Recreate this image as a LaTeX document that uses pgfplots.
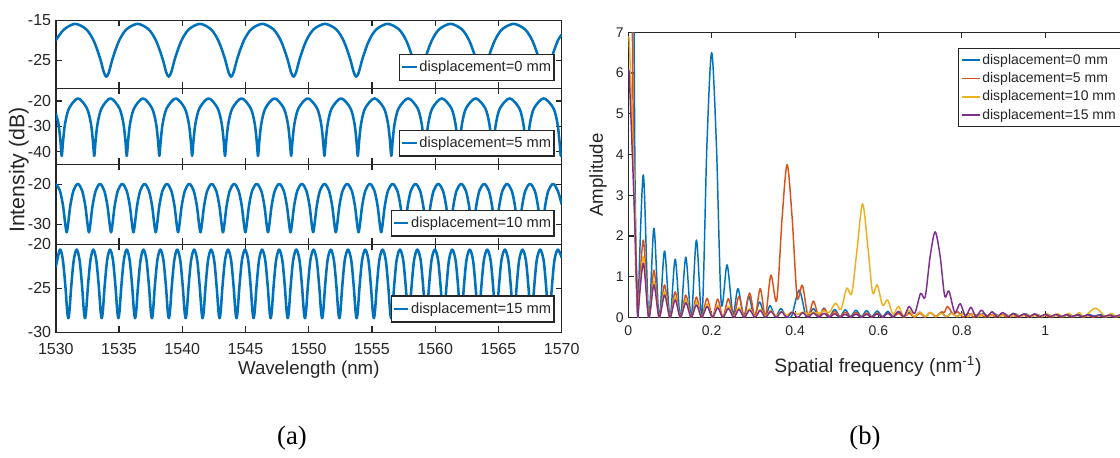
\documentclass[border=0pt]{standalone}
\usepackage{fontspec}
\setmainfont{Liberation Sans}
\newfontfamily\capfont{Liberation Serif}
\usepackage{pgfplots}
\pgfplotsset{compat=1.18}
\definecolor{mblue}{RGB}{0,114,189}
\definecolor{morange}{RGB}{217,83,25}
\definecolor{myellow}{RGB}{237,177,32}
\definecolor{mpurple}{RGB}{126,47,142}
\definecolor{axcol}{RGB}{38,38,38}
\pgfplotsset{
  leftax/.style={scale only axis, width=379.4pt, xmin=1530, xmax=1570,
    xtick={1530,1535,1540,1545,1550,1555,1560,1565,1570}, xticklabels={},
    tick align=inside, axis line style={axcol, line width=1.1pt},
    tick style={axcol, line width=1pt}, major tick length=4.5pt,
    /pgf/number format/assume math mode=true,
    ticklabel style={font=\fontsize{12}{12}\selectfont, text=axcol},
    legend style={anchor=south east, draw=axcol, line width=0.9pt, fill=white,
      font=\fontsize{11}{12}\selectfont, text=axcol, inner xsep=1pt, inner ysep=3pt,
      nodes={inner xsep=1.2pt}},
    legend cell align=left,
    legend image code/.code={\draw[#1] (0pt,0pt) -- (11pt,0pt);}},
  curve/.style={mblue, line width=1.9pt, smooth, line join=round}
}
\begin{document}
\begin{tikzpicture}
\useasboundingbox (0,0) rectangle (840pt,-342.75pt);
\fill[white] (0,0) rectangle (840pt,-342.75pt);
% ---------- subplot 1 ----------
\begin{axis}[leftax, at={(41.85pt,-15.2pt)}, anchor=north west, height=51pt,
  ymin=-32, ymax=-15, ytick={-25,-15}, yticklabels={-25,-15},
  legend style={at={(0.986,0.11)}}]
\addplot[curve] coordinates {(1530,-20.0)(1530.65,-17.3)(1531.54,-15.9)
(1532.42,-17.3)(1533.01,-20.2)(1533.5,-24.5)(1533.8,-28.0)(1534.0,-29.1)(1534.2,-28.0)(1534.5,-24.5)(1534.99,-20.2)(1535.58,-17.3)(1536.47,-15.9)
(1537.35,-17.3)(1537.94,-20.2)(1538.43,-24.5)(1538.73,-28.0)(1538.93,-29.1)(1539.13,-28.0)(1539.43,-24.5)(1539.92,-20.2)(1540.51,-17.3)(1541.4,-15.9)
(1542.28,-17.3)(1542.87,-20.2)(1543.36,-24.5)(1543.66,-28.0)(1543.86,-29.1)(1544.06,-28.0)(1544.36,-24.5)(1544.85,-20.2)(1545.44,-17.3)(1546.33,-15.9)
(1547.22,-17.3)(1547.81,-20.2)(1548.3,-24.5)(1548.6,-28.0)(1548.8,-29.1)(1549.0,-28.0)(1549.3,-24.5)(1549.79,-20.2)(1550.38,-17.3)(1551.28,-15.9)
(1552.18,-17.3)(1552.77,-20.2)(1553.26,-24.5)(1553.56,-28.0)(1553.76,-29.1)(1553.96,-28.0)(1554.26,-24.5)(1554.75,-20.2)(1555.34,-17.3)(1556.24,-15.9)
(1557.14,-17.3)(1557.73,-20.2)(1558.22,-24.5)(1558.52,-28.0)(1558.72,-29.1)(1558.92,-28.0)(1559.22,-24.5)(1559.71,-20.2)(1560.3,-17.3)(1561.21,-15.9)
(1562.12,-17.3)(1562.71,-20.2)(1563.2,-24.5)(1563.5,-28.0)(1563.7,-29.1)(1563.9,-28.0)(1564.2,-24.5)(1564.69,-20.2)(1565.28,-17.3)(1566.2,-15.9)
(1567.11,-17.3)(1567.7,-20.2)(1568.19,-24.5)(1568.49,-28.0)(1568.69,-29.1)(1568.89,-28.0)(1569.19,-24.5)(1569.68,-20.2)(1570,-18.6)};
\addlegendentry{displacement=0 mm}
\end{axis}
% ---------- subplot 2 ----------
\begin{axis}[leftax, at={(41.85pt,-66.2pt)}, anchor=north west, height=57pt,
  ymin=-45, ymax=-15, ytick={-40,-30,-20}, yticklabels={-40,-30,-20},
  legend style={at={(0.986,0.10)}}]
\addplot[curve] coordinates {(1530,-25.0)(1530.21,-29.0)(1530.365,-35.8)(1530.47,-41.7)(1530.575,-35.8)(1530.73,-29.0)(1531.05,-22.9)(1531.755,-19.0)
(1532.46,-22.9)(1532.78,-29.0)(1532.935,-35.8)(1533.04,-41.7)(1533.145,-35.8)(1533.30,-29.0)(1533.62,-22.9)(1534.325,-19.0)
(1535.03,-22.9)(1535.35,-29.0)(1535.505,-35.8)(1535.61,-41.7)(1535.715,-35.8)(1535.87,-29.0)(1536.19,-22.9)(1536.90,-19.0)
(1537.61,-22.9)(1537.93,-29.0)(1538.085,-35.8)(1538.19,-41.7)(1538.295,-35.8)(1538.45,-29.0)(1538.77,-22.9)(1539.485,-19.0)
(1540.20,-22.9)(1540.52,-29.0)(1540.675,-35.8)(1540.78,-41.7)(1540.885,-35.8)(1541.04,-29.0)(1541.36,-22.9)(1542.08,-19.0)
(1542.80,-22.9)(1543.12,-29.0)(1543.275,-35.8)(1543.38,-41.7)(1543.485,-35.8)(1543.64,-29.0)(1543.96,-22.9)(1544.685,-19.0)
(1545.41,-22.9)(1545.73,-29.0)(1545.885,-35.8)(1545.99,-41.7)(1546.095,-35.8)(1546.25,-29.0)(1546.57,-22.9)(1547.30,-19.0)
(1548.03,-22.9)(1548.35,-29.0)(1548.505,-35.8)(1548.61,-41.7)(1548.715,-35.8)(1548.87,-29.0)(1549.19,-22.9)(1549.925,-19.0)
(1550.66,-22.9)(1550.98,-29.0)(1551.135,-35.8)(1551.24,-41.7)(1551.345,-35.8)(1551.50,-29.0)(1551.82,-22.9)(1552.56,-19.0)
(1553.30,-22.9)(1553.62,-29.0)(1553.775,-35.8)(1553.88,-41.7)(1553.985,-35.8)(1554.14,-29.0)(1554.46,-22.9)(1555.205,-19.0)
(1555.95,-22.9)(1556.27,-29.0)(1556.425,-35.8)(1556.53,-41.7)(1556.635,-35.8)(1556.79,-29.0)(1557.11,-22.9)(1557.86,-19.0)
(1558.61,-22.9)(1558.93,-29.0)(1559.085,-35.8)(1559.19,-41.7)(1559.295,-35.8)(1559.45,-29.0)(1559.77,-22.9)(1560.525,-19.0)
(1561.28,-22.9)(1561.60,-29.0)(1561.755,-35.8)(1561.86,-41.7)(1561.965,-35.8)(1562.12,-29.0)(1562.44,-22.9)(1563.20,-19.0)
(1563.96,-22.9)(1564.28,-29.0)(1564.435,-35.8)(1564.54,-41.7)(1564.645,-35.8)(1564.80,-29.0)(1565.12,-22.9)(1565.885,-19.0)
(1566.65,-22.9)(1566.97,-29.0)(1567.125,-35.8)(1567.23,-41.7)(1567.335,-35.8)(1567.49,-29.0)(1567.81,-22.9)(1568.58,-19.0)
(1569.35,-22.9)(1569.67,-29.0)(1569.825,-35.8)(1569.93,-41.7)(1570,-38.0)};
\addlegendentry{displacement=5 mm}
\end{axis}
% ---------- subplot 3 ----------
\begin{axis}[leftax, at={(41.85pt,-123.2pt)}, anchor=north west, height=60pt,
  ymin=-35, ymax=-15, ytick={-30,-20}, yticklabels={-30,-20},
  legend style={at={(0.986,0.095)}}]
\addplot[curve] coordinates {(1530,-19.9)
(1530.323,-21.6)(1530.574,-25.4)(1530.753,-30.1)(1530.86,-32.0)(1530.967,-30.1)(1531.146,-25.4)(1531.397,-21.6)(1531.74,-19.9)
(1532.083,-21.6)(1532.334,-25.4)(1532.513,-30.1)(1532.62,-32.0)(1532.727,-30.1)(1532.906,-25.4)(1533.157,-21.6)(1533.495,-19.9)
(1533.833,-21.6)(1534.084,-25.4)(1534.263,-30.1)(1534.37,-32.0)(1534.477,-30.1)(1534.656,-25.4)(1534.907,-21.6)(1535.255,-19.9)
(1535.603,-21.6)(1535.854,-25.4)(1536.033,-30.1)(1536.14,-32.0)(1536.247,-30.1)(1536.426,-25.4)(1536.677,-21.6)(1537.02,-19.9)
(1537.363,-21.6)(1537.614,-25.4)(1537.793,-30.1)(1537.90,-32.0)(1538.007,-30.1)(1538.186,-25.4)(1538.437,-21.6)(1538.785,-19.9)
(1539.133,-21.6)(1539.384,-25.4)(1539.563,-30.1)(1539.67,-32.0)(1539.777,-30.1)(1539.956,-25.4)(1540.207,-21.6)(1540.555,-19.9)
(1540.903,-21.6)(1541.154,-25.4)(1541.333,-30.1)(1541.44,-32.0)(1541.547,-30.1)(1541.726,-25.4)(1541.977,-21.6)(1542.33,-19.9)
(1542.683,-21.6)(1542.934,-25.4)(1543.113,-30.1)(1543.22,-32.0)(1543.327,-30.1)(1543.506,-25.4)(1543.757,-21.6)(1544.105,-19.9)
(1544.453,-21.6)(1544.704,-25.4)(1544.883,-30.1)(1544.99,-32.0)(1545.097,-30.1)(1545.276,-25.4)(1545.527,-21.6)(1545.885,-19.9)
(1546.243,-21.6)(1546.494,-25.4)(1546.673,-30.1)(1546.78,-32.0)(1546.887,-30.1)(1547.066,-25.4)(1547.317,-21.6)(1547.67,-19.9)
(1548.023,-21.6)(1548.274,-25.4)(1548.453,-30.1)(1548.56,-32.0)(1548.667,-30.1)(1548.846,-25.4)(1549.097,-21.6)(1549.455,-19.9)
(1549.813,-21.6)(1550.064,-25.4)(1550.243,-30.1)(1550.35,-32.0)(1550.457,-30.1)(1550.636,-25.4)(1550.887,-21.6)(1551.245,-19.9)
(1551.603,-21.6)(1551.854,-25.4)(1552.033,-30.1)(1552.14,-32.0)(1552.247,-30.1)(1552.426,-25.4)(1552.677,-21.6)(1553.04,-19.9)
(1553.403,-21.6)(1553.654,-25.4)(1553.833,-30.1)(1553.94,-32.0)(1554.047,-30.1)(1554.226,-25.4)(1554.477,-21.6)(1554.835,-19.9)
(1555.193,-21.6)(1555.444,-25.4)(1555.623,-30.1)(1555.73,-32.0)(1555.837,-30.1)(1556.016,-25.4)(1556.267,-21.6)(1556.635,-19.9)
(1557.003,-21.6)(1557.254,-25.4)(1557.433,-30.1)(1557.54,-32.0)(1557.647,-30.1)(1557.826,-25.4)(1558.077,-21.6)(1558.44,-19.9)
(1558.803,-21.6)(1559.054,-25.4)(1559.233,-30.1)(1559.34,-32.0)(1559.447,-30.1)(1559.626,-25.4)(1559.877,-21.6)(1560.245,-19.9)
(1560.613,-21.6)(1560.864,-25.4)(1561.043,-30.1)(1561.15,-32.0)(1561.257,-30.1)(1561.436,-25.4)(1561.687,-21.6)(1562.055,-19.9)
(1562.423,-21.6)(1562.674,-25.4)(1562.853,-30.1)(1562.96,-32.0)(1563.067,-30.1)(1563.246,-25.4)(1563.497,-21.6)(1563.87,-19.9)
(1564.243,-21.6)(1564.494,-25.4)(1564.673,-30.1)(1564.78,-32.0)(1564.887,-30.1)(1565.066,-25.4)(1565.317,-21.6)(1565.685,-19.9)
(1566.053,-21.6)(1566.304,-25.4)(1566.483,-30.1)(1566.59,-32.0)(1566.697,-30.1)(1566.876,-25.4)(1567.127,-21.6)(1567.50,-19.9)
(1567.873,-21.6)(1568.124,-25.4)(1568.303,-30.1)(1568.41,-32.0)(1568.517,-30.1)(1568.696,-25.4)(1568.947,-21.6)(1569.32,-19.9)
(1569.69,-21.6)(1570,-25.0)};
\addlegendentry{displacement=10 mm}
\end{axis}
% ---------- subplot 4 ----------
\begin{axis}[leftax, at={(41.85pt,-183.2pt)}, anchor=north west, height=66pt,
  ymin=-30, ymax=-20, ytick={-30,-25,-20}, yticklabels={-30,-25,-20},
  xticklabels={1530,1535,1540,1545,1550,1555,1560,1565,1570},
  xticklabel style={yshift=-5pt},
  legend style={at={(0.986,0.11)}}]
\addplot[curve] coordinates {(1530,-22.6)(1530.33,-20.6)
(1530.56,-21.8)(1530.76,-24.8)(1530.895,-27.5)(1530.99,-28.4)(1531.085,-27.5)(1531.22,-24.8)(1531.42,-21.8)(1531.65,-20.6)
(1531.88,-21.8)(1532.08,-24.8)(1532.215,-27.5)(1532.31,-28.4)(1532.405,-27.5)(1532.54,-24.8)(1532.74,-21.8)(1532.97,-20.6)
(1533.20,-21.8)(1533.40,-24.8)(1533.535,-27.5)(1533.63,-28.4)(1533.725,-27.5)(1533.86,-24.8)(1534.06,-21.8)(1534.29,-20.6)
(1534.52,-21.8)(1534.72,-24.8)(1534.855,-27.5)(1534.95,-28.4)(1535.045,-27.5)(1535.18,-24.8)(1535.38,-21.8)(1535.61,-20.6)
(1535.84,-21.8)(1536.04,-24.8)(1536.175,-27.5)(1536.27,-28.4)(1536.365,-27.5)(1536.50,-24.8)(1536.70,-21.8)(1536.935,-20.6)
(1537.17,-21.8)(1537.37,-24.8)(1537.505,-27.5)(1537.60,-28.4)(1537.695,-27.5)(1537.83,-24.8)(1538.03,-21.8)(1538.27,-20.6)
(1538.51,-21.8)(1538.71,-24.8)(1538.845,-27.5)(1538.94,-28.4)(1539.035,-27.5)(1539.17,-24.8)(1539.37,-21.8)(1539.605,-20.6)
(1539.84,-21.8)(1540.04,-24.8)(1540.175,-27.5)(1540.27,-28.4)(1540.365,-27.5)(1540.50,-24.8)(1540.70,-21.8)(1540.94,-20.6)
(1541.18,-21.8)(1541.38,-24.8)(1541.515,-27.5)(1541.61,-28.4)(1541.705,-27.5)(1541.84,-24.8)(1542.04,-21.8)(1542.28,-20.6)
(1542.52,-21.8)(1542.72,-24.8)(1542.855,-27.5)(1542.95,-28.4)(1543.045,-27.5)(1543.18,-24.8)(1543.38,-21.8)(1543.62,-20.6)
(1543.86,-21.8)(1544.06,-24.8)(1544.195,-27.5)(1544.29,-28.4)(1544.385,-27.5)(1544.52,-24.8)(1544.72,-21.8)(1544.965,-20.6)
(1545.21,-21.8)(1545.41,-24.8)(1545.545,-27.5)(1545.64,-28.4)(1545.735,-27.5)(1545.87,-24.8)(1546.07,-21.8)(1546.315,-20.6)
(1546.56,-21.8)(1546.76,-24.8)(1546.895,-27.5)(1546.99,-28.4)(1547.085,-27.5)(1547.22,-24.8)(1547.42,-21.8)(1547.665,-20.6)
(1547.91,-21.8)(1548.11,-24.8)(1548.245,-27.5)(1548.34,-28.4)(1548.435,-27.5)(1548.57,-24.8)(1548.77,-21.8)(1549.02,-20.6)
(1549.27,-21.8)(1549.47,-24.8)(1549.605,-27.5)(1549.70,-28.4)(1549.795,-27.5)(1549.93,-24.8)(1550.13,-21.8)(1550.38,-20.6)
(1550.63,-21.8)(1550.83,-24.8)(1550.965,-27.5)(1551.06,-28.4)(1551.155,-27.5)(1551.29,-24.8)(1551.49,-21.8)(1551.74,-20.6)
(1551.99,-21.8)(1552.19,-24.8)(1552.325,-27.5)(1552.42,-28.4)(1552.515,-27.5)(1552.65,-24.8)(1552.85,-21.8)(1553.105,-20.6)
(1553.36,-21.8)(1553.56,-24.8)(1553.695,-27.5)(1553.79,-28.4)(1553.885,-27.5)(1554.02,-24.8)(1554.22,-21.8)(1554.47,-20.6)
(1554.72,-21.8)(1554.92,-24.8)(1555.055,-27.5)(1555.15,-28.4)(1555.245,-27.5)(1555.38,-24.8)(1555.58,-21.8)(1555.835,-20.6)
(1556.09,-21.8)(1556.29,-24.8)(1556.425,-27.5)(1556.52,-28.4)(1556.615,-27.5)(1556.75,-24.8)(1556.95,-21.8)(1557.21,-20.6)
(1557.47,-21.8)(1557.67,-24.8)(1557.805,-27.5)(1557.90,-28.4)(1557.995,-27.5)(1558.13,-24.8)(1558.33,-21.8)(1558.59,-20.6)
(1558.85,-21.8)(1559.05,-24.8)(1559.185,-27.5)(1559.28,-28.4)(1559.375,-27.5)(1559.51,-24.8)(1559.71,-21.8)(1559.97,-20.6)
(1560.23,-21.8)(1560.43,-24.8)(1560.565,-27.5)(1560.66,-28.4)(1560.755,-27.5)(1560.89,-24.8)(1561.09,-21.8)(1561.35,-20.6)
(1561.61,-21.8)(1561.81,-24.8)(1561.945,-27.5)(1562.04,-28.4)(1562.135,-27.5)(1562.27,-24.8)(1562.47,-21.8)(1562.73,-20.6)
(1562.99,-21.8)(1563.19,-24.8)(1563.325,-27.5)(1563.42,-28.4)(1563.515,-27.5)(1563.65,-24.8)(1563.85,-21.8)(1564.115,-20.6)
(1564.38,-21.8)(1564.58,-24.8)(1564.715,-27.5)(1564.81,-28.4)(1564.905,-27.5)(1565.04,-24.8)(1565.24,-21.8)(1565.51,-20.6)
(1565.78,-21.8)(1565.98,-24.8)(1566.115,-27.5)(1566.21,-28.4)(1566.305,-27.5)(1566.44,-24.8)(1566.64,-21.8)(1566.905,-20.6)
(1567.17,-21.8)(1567.37,-24.8)(1567.505,-27.5)(1567.60,-28.4)(1567.695,-27.5)(1567.83,-24.8)(1568.03,-21.8)(1568.30,-20.6)
(1568.57,-21.8)(1568.77,-24.8)(1568.905,-27.5)(1569.00,-28.4)(1569.095,-27.5)(1569.23,-24.8)(1569.43,-21.8)(1569.70,-20.6)
(1570,-21.5)};
\addlegendentry{displacement=15 mm}
\end{axis}
\node[rotate=90, font=\fontsize{16}{16}\selectfont, text=axcol] at (14.2pt,-127.5pt) {Intensity (dB)};
\node[font=\fontsize{14}{14}\selectfont, text=axcol] at (231.6pt,-277.5pt) {Wavelength (nm)};
% ---------- right panel ----------
\begin{scope}
\clip (0,0) rectangle (840pt,-342.75pt);
\begin{axis}[scale only axis, at={(471.2pt,-24.2pt)}, anchor=north west,
  width=390.9pt, height=213.9pt, xmin=0, xmax=1.25, ymin=0, ymax=7,
  xtick={0,0.2,0.4,0.6,0.8,1,1.2}, xticklabels={0,0.2,0.4,0.6,0.8,1,{}},
  ytick={0,1,2,3,4,5,6,7}, yticklabels={0,1,2,3,4,5,6,7},
  tick align=inside, axis line style={axcol, line width=0.8pt},
  tick style={axcol, line width=0.8pt}, major tick length=4.5pt,
  /pgf/number format/assume math mode=true,
  ticklabel style={font=\fontsize{10.5}{10.5}\selectfont, text=axcol},
  xticklabel style={yshift=-2.5pt},
  legend style={at={(0.632,0.944)}, anchor=north west, draw=axcol, line width=0.8pt,
    font=\fontsize{10.5}{11}\selectfont, text=axcol, inner xsep=2pt, inner ysep=1.5pt,
    nodes={inner ysep=2.35pt, inner xsep=1.5pt}},
  legend cell align=left,
  legend image code/.code={\draw[#1] (0pt,0pt) -- (13.5pt,0pt);},
  every axis plot/.append style={line width=1.1pt, line join=round}]
\addlegendimage{mblue, line width=1.1pt}\addlegendentry{displacement=0 mm}
\addlegendimage{morange, line width=1.1pt}\addlegendentry{displacement=5 mm}
\addlegendimage{myellow, line width=1.1pt}\addlegendentry{displacement=10 mm}
\addlegendimage{mpurple, line width=1.1pt}\addlegendentry{displacement=15 mm}
% blue
\addplot[mblue, forget plot] coordinates {(0.012,10)(0.0135,7.5)(0.016,3.5)(0.019,1.2)(0.022,0.1)(0.023,0)};
\addplot[mblue, smooth, forget plot] coordinates {(0.023,0)(0.036,3.5)(0.049,0)(0.0615,2.19)(0.074,0)(0.087,1.63)(0.1,0)(0.1125,1.43)(0.125,0)(0.138,1.48)(0.151,0)(0.1635,1.9)(0.177,0.05)(0.1885,4.2)(0.2,6.5)(0.2115,4.2)(0.223,0.35)(0.237,1.29)(0.251,0.08)(0.263,0.71)(0.277,0.03)(0.289,0.52)(0.302,0.02)(0.315,0.38)(0.328,0.02)(0.34,0.29)(0.353,0.02)(0.366,0.22)(0.379,0.02)(0.392,0.04)(0.41,0.67)(0.427,0.02)(0.444,0.22)(0.457,0.02)(0.4695,0.23)(0.482,0.02)(0.495,0.2)(0.508,0.02)(0.5205,0.19)(0.533,0.02)(0.546,0.18)(0.559,0.02)(0.5715,0.17)(0.584,0.02)(0.597,0.16)(0.61,0.02)(0.6225,0.15)(0.635,0.02)(0.648,0.14)(0.661,0.02)(0.6735,0.13)(0.686,0.02)(0.699,0.13)(0.712,0.02)(0.7245,0.12)(0.737,0.02)(0.75,0.12)(0.763,0.02)(0.7755,0.11)(0.788,0.02)(0.801,0.11)(0.814,0.02)(0.8265,0.1)(0.839,0.02)(0.852,0.1)(0.865,0.02)(0.8775,0.1)(0.89,0.02)(0.903,0.09)(0.916,0.02)(0.9285,0.09)(0.941,0.02)(0.954,0.09)(0.967,0.02)(0.9795,0.08)(0.992,0.02)(1.005,0.08)(1.018,0.02)(1.0305,0.08)(1.043,0.02)(1.056,0.08)(1.069,0.02)(1.0815,0.07)(1.094,0.02)(1.107,0.07)(1.12,0.02)(1.1325,0.07)(1.145,0.02)(1.158,0.07)(1.171,0.02)(1.1835,0.06)(1.196,0.02)(1.209,0.06)(1.222,0.02)(1.2345,0.06)(1.25,0.02)};
% orange
\addplot[morange, forget plot] coordinates {(0.008,10)(0.0095,7.5)(0.012,4.5)(0.015,2.6)(0.018,1.2)(0.021,0.3)(0.023,0)};
\addplot[morange, smooth, forget plot] coordinates {(0.023,0)(0.036,1.9)(0.049,0)(0.0615,1.16)(0.074,0)(0.087,0.8)(0.1,0)(0.1125,0.63)(0.125,0)(0.138,0.55)(0.151,0)(0.1635,0.5)(0.176,0)(0.189,0.47)(0.202,0.01)(0.2145,0.45)(0.227,0.01)(0.24,0.46)(0.253,0.01)(0.2655,0.52)(0.278,0.01)(0.291,0.6)(0.304,0.02)(0.3165,0.71)(0.329,0.03)(0.342,1.04)(0.356,0.42)(0.369,2.45)(0.381,3.75)(0.393,2.45)(0.405,0.5)(0.4175,0.79)(0.431,0.05)(0.444,0.4)(0.457,0.02)(0.4695,0.22)(0.482,0.01)(0.495,0.15)(0.508,0.01)(0.5205,0.13)(0.533,0.01)(0.546,0.12)(0.559,0.01)(0.5715,0.11)(0.584,0.01)(0.597,0.11)(0.61,0.01)(0.6225,0.1)(0.635,0.01)(0.648,0.1)(0.661,0.01)(0.6735,0.1)(0.686,0.01)(0.699,0.1)(0.712,0.01)(0.7245,0.12)(0.739,0.02)(0.752,0.14)(0.758,0.12)(0.766,0.27)(0.779,0.08)(0.79,0.14)(0.803,0.01)(0.816,0.1)(0.829,0.01)(0.842,0.09)(0.855,0.01)(0.868,0.08)(0.881,0.01)(0.894,0.08)(0.907,0.01)(0.92,0.07)(0.933,0.01)(0.946,0.07)(0.959,0.01)(0.972,0.07)(0.985,0.01)(0.998,0.06)(1.011,0.01)(1.024,0.06)(1.037,0.01)(1.05,0.06)(1.063,0.01)(1.076,0.06)(1.089,0.01)(1.102,0.05)(1.115,0.01)(1.128,0.05)(1.141,0.01)(1.154,0.05)(1.167,0.01)(1.18,0.05)(1.193,0.01)(1.206,0.05)(1.219,0.01)(1.232,0.05)(1.25,0.01)};
% yellow
\addplot[myellow, forget plot] coordinates {(0,6.9)(0.002,6.85)(0.006,5.9)(0.011,4.3)(0.015,3.0)(0.019,1.5)(0.023,0)};
\addplot[myellow, smooth, forget plot] coordinates {(0.023,0)(0.036,1.5)(0.049,0)(0.0615,0.88)(0.074,0)(0.087,0.63)(0.1,0)(0.1125,0.5)(0.125,0)(0.138,0.43)(0.151,0)(0.1635,0.38)(0.176,0)(0.189,0.33)(0.202,0)(0.2145,0.3)(0.227,0)(0.24,0.27)(0.253,0.01)(0.2655,0.24)(0.278,0.01)(0.291,0.22)(0.304,0.02)(0.3165,0.2)(0.329,0.03)(0.342,0.17)(0.355,0.04)(0.3675,0.15)(0.38,0.06)(0.393,0.14)(0.406,0.08)(0.4185,0.13)(0.431,0.09)(0.444,0.13)(0.457,0.1)(0.4695,0.16)(0.482,0.12)(0.497,0.35)(0.51,0.2)(0.524,0.72)(0.536,0.59)(0.549,1.7)(0.562,2.79)(0.575,1.7)(0.586,0.6)(0.597,0.8)(0.61,0.3)(0.622,0.43)(0.635,0.08)(0.648,0.27)(0.661,0.02)(0.6735,0.18)(0.686,0.02)(0.699,0.13)(0.712,0.02)(0.7245,0.12)(0.737,0.02)(0.75,0.1)(0.763,0.02)(0.7755,0.1)(0.788,0.02)(0.801,0.09)(0.814,0.02)(0.8265,0.09)(0.839,0.02)(0.852,0.08)(0.865,0.02)(0.8775,0.08)(0.89,0.02)(0.903,0.08)(0.916,0.02)(0.9285,0.08)(0.941,0.02)(0.954,0.08)(0.967,0.02)(0.9795,0.08)(0.992,0.02)(1.005,0.09)(1.018,0.02)(1.0305,0.09)(1.043,0.02)(1.056,0.1)(1.069,0.02)(1.0815,0.12)(1.094,0.02)(1.12,0.23)(1.145,0.02)(1.158,0.1)(1.171,0.02)(1.1835,0.08)(1.196,0.02)(1.209,0.07)(1.222,0.02)(1.2345,0.06)(1.25,0.02)};
% purple
\addplot[mpurple, forget plot] coordinates {(0,6.1)(0.002,6.03)(0.0065,4.9)(0.0155,2.4)(0.02,1.0)(0.023,0)};
\addplot[mpurple, smooth, forget plot] coordinates {(0.023,0)(0.036,1.33)(0.049,0)(0.0615,0.8)(0.074,0)(0.087,0.55)(0.1,0)(0.1125,0.43)(0.125,0)(0.138,0.36)(0.151,0)(0.1635,0.31)(0.176,0)(0.189,0.27)(0.202,0)(0.2145,0.24)(0.227,0)(0.24,0.22)(0.253,0)(0.2655,0.2)(0.278,0)(0.291,0.18)(0.304,0)(0.3165,0.17)(0.329,0)(0.342,0.15)(0.355,0)(0.3675,0.14)(0.38,0)(0.393,0.13)(0.406,0)(0.4185,0.12)(0.431,0)(0.444,0.11)(0.457,0)(0.4695,0.1)(0.482,0)(0.495,0.09)(0.508,0)(0.5205,0.08)(0.533,0)(0.546,0.08)(0.559,0)(0.5715,0.08)(0.584,0)(0.597,0.09)(0.61,0)(0.6225,0.11)(0.635,0.01)(0.648,0.15)(0.661,0.02)(0.6735,0.27)(0.687,0.1)(0.701,0.59)(0.712,0.5)(0.724,1.5)(0.736,2.1)(0.748,1.5)(0.759,0.52)(0.769,0.65)(0.783,0.12)(0.796,0.34)(0.809,0.03)(0.8215,0.25)(0.834,0.02)(0.847,0.18)(0.86,0.02)(0.8725,0.14)(0.885,0.02)(0.898,0.12)(0.911,0.02)(0.9235,0.1)(0.936,0.02)(0.949,0.09)(0.962,0.02)(0.9745,0.09)(0.987,0.02)(1.0,0.08)(1.013,0.02)(1.0255,0.08)(1.038,0.02)(1.051,0.07)(1.064,0.02)(1.0765,0.07)(1.089,0.02)(1.102,0.07)(1.115,0.02)(1.1275,0.06)(1.14,0.02)(1.153,0.06)(1.166,0.02)(1.1785,0.06)(1.191,0.02)(1.204,0.05)(1.217,0.02)(1.2295,0.05)(1.25,0.02)};
\end{axis}
\end{scope}
\node[rotate=90, font=\fontsize{14}{14}\selectfont, text=axcol] at (448.5pt,-131.25pt) {Amplitude};
\node[font=\fontsize{14.5}{14.5}\selectfont, text=axcol] at (658.5pt,-274.5pt) {Spatial frequency (nm\textsuperscript{-1})};
\node[font=\capfont\fontsize{20}{20}\selectfont] at (219pt,-328.5pt) {(a)};
\node[font=\capfont\fontsize{20}{20}\selectfont] at (648.75pt,-328.5pt) {(b)};
\end{tikzpicture}
\end{document}
